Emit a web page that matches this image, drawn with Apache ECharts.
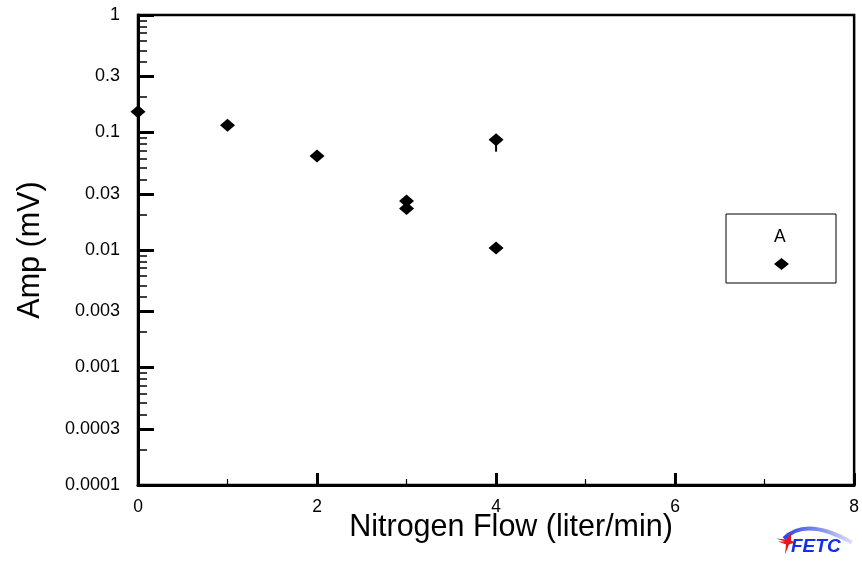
<!DOCTYPE html>
<html><head><meta charset="utf-8">
<script src="https://cdn.jsdelivr.net/npm/echarts@6/dist/echarts.min.js"></script>
<style>html,body{margin:0;padding:0;background:#fff}#c{width:862px;height:564px}</style>
</head><body><div id="c"></div>
<script>
const flow = [0, 1, 2, 3, 3, 4, 4];
const amp = [0.15, 0.115, 0.063, 0.0261, 0.0225, 0.0868, 0.0104];
const errFlow = [4];
const errHigh = [0.0868];
const errLow = [0.0687];
const seriesName = 'A';
const yTickValues = [1, 0.3, 0.1, 0.03, 0.01, 0.003, 0.001, 0.0003, 0.0001];
const yTickLabels = ['1', '0.3', '0.1', '0.03', '0.01', '0.003', '0.001', '0.0003', '0.0001'];
const yMinorValues = [
  0.9, 0.8, 0.7, 0.6, 0.5, 0.4, 0.2,
  0.09, 0.08, 0.07, 0.06, 0.05, 0.04, 0.02,
  0.009, 0.008, 0.007, 0.006, 0.005, 0.004, 0.002,
  0.0009, 0.0008, 0.0007, 0.0006, 0.0005, 0.0004, 0.0002
];
const FONT = 'Liberation Sans, Arial, sans-serif';

const points = flow.map((x, i) => [x, amp[i]]);
const errData = errFlow.map((x, i) => [x, errHigh[i], errLow[i]]);

function yLabel(v) {
  let best = 0, bd = Infinity;
  yTickValues.forEach((t, i) => {
    const d = Math.abs(Math.log10(v) - Math.log10(t));
    if (d < bd) { bd = d; best = i; }
  });
  return yTickLabels[best];
}

const chart = echarts.init(document.getElementById('c'), null, {renderer: 'canvas'});
chart.setOption({
  animation: false,
  backgroundColor: '#fff',
  grid: {left: 138, right: 4, top: 15, bottom: 79, show: true, borderColor: '#000', borderWidth: 2.5, backgroundColor: 'transparent'},
  xAxis: {
    type: 'value', min: 0, max: 8, interval: 2,
    name: 'Nitrogen Flow (liter/min)', nameLocation: 'middle', nameGap: 27, nameMoveOverlap: false,
    nameTextStyle: {fontSize: 30.5, color: '#000', fontFamily: FONT, padding: [0, 0, 0, 30]},
    axisLine: {show: true, onZero: false, lineStyle: {color: '#000', width: 3}},
    axisTick: {show: true, inside: true, length: 12, lineStyle: {color: '#000', width: 3}},
    minorTick: {show: true, splitNumber: 2, length: 6, lineStyle: {color: '#000', width: 1.2}},
    axisLabel: {fontSize: 17.5, color: '#000', margin: 13, fontFamily: FONT},
    splitLine: {show: false}
  },
  yAxis: [{
    type: 'log', logBase: 10, min: 0.0001, max: 1,
    name: 'Amp (mV)', nameLocation: 'middle', nameGap: 92, nameMoveOverlap: false,
    nameTextStyle: {fontSize: 30.5, color: '#000', fontFamily: FONT},
    axisLine: {show: true, onZero: false, lineStyle: {color: '#000', width: 3}},
    axisTick: {show: true, inside: true, length: 16, customValues: yTickValues, lineStyle: {color: '#000', width: 3}},
    axisLabel: {fontSize: 18, color: '#000', margin: 18, fontFamily: FONT, customValues: yTickValues, formatter: yLabel},
    splitLine: {show: false}
  }, {
    type: 'log', logBase: 10, min: 0.0001, max: 1, position: 'left',
    axisLine: {show: false},
    axisTick: {show: true, inside: true, length: 9, customValues: yMinorValues, lineStyle: {color: '#000', width: 1.5}},
    axisLabel: {show: false},
    splitLine: {show: false}
  }],
  legend: {
    data: [{name: seriesName, icon: 'diamond'}],
    left: 726, top: 214, orient: 'vertical',
    padding: [44, 47, 13, 48],
    itemWidth: 15, itemHeight: 12,
    borderColor: '#000', borderWidth: 1, backgroundColor: '#fff',
    formatter: function () { return ''; },
    selectedMode: false,
    itemStyle: {opacity: 1}
  },
  graphic: [
    {type: 'text', left: 774, top: 228, style: {text: seriesName, fontSize: 17.5, fill: '#000', fontFamily: FONT}, z: 100},
    {type: 'group', left: 776, top: 526, children: [
      {type: 'bezierCurve', shape: {x1: 8, y1: 18, cpx1: 30, cpy1: -4, x2: 76, y2: 22},
       style: {lineWidth: 4, fill: null, stroke: {type: 'linear', x: 0, y: 0, x2: 1, y2: 0, colorStops: [{offset: 0, color: '#2a3fe0'}, {offset: 0.6, color: '#8f9cec'}, {offset: 1, color: '#e4e8f8'}]}}},
      {type: 'polygon', shape: {points: [[0, 18], [10, 19], [15, 13], [15, 20], [19, 22], [13, 24], [9, 34], [10, 24], [2, 21], [9, 21]]},
       style: {fill: '#e8141e'}},
      {type: 'text', x: 15, y: 17, style: {text: 'FETC', fontSize: 19, fontWeight: 'bold', fontStyle: 'italic', fill: '#1330e6', fontFamily: FONT}}
    ]}
  ],
  series: [{
    name: seriesName, type: 'scatter', data: points,
    symbol: 'diamond', symbolSize: [15, 13],
    itemStyle: {color: '#000', opacity: 1}, z: 5
  }, {
    name: 'err', type: 'custom', data: errData,
    encode: {x: 0, y: [1, 2]},
    renderItem: function (params, api) {
      const a = api.coord([api.value(0), api.value(1)]);
      const b = api.coord([api.value(0), api.value(2)]);
      return {type: 'line', shape: {x1: a[0], y1: a[1], x2: b[0], y2: b[1]}, style: {stroke: '#000', lineWidth: 2}};
    },
    z: 4
  }]
});
</script></body></html>
